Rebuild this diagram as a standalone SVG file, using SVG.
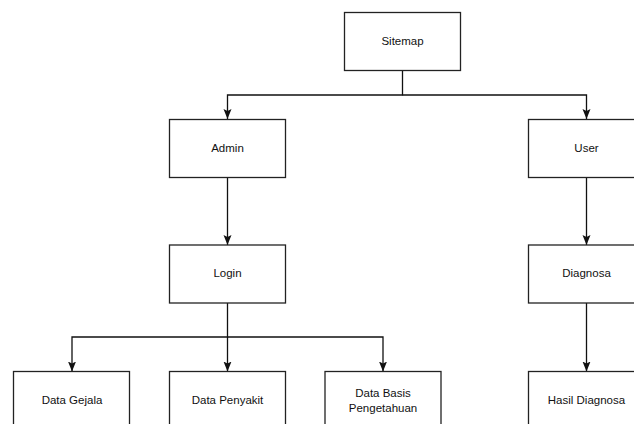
<svg xmlns="http://www.w3.org/2000/svg" width="634" height="424" viewBox="0 0 634 424">
  <style>
    .box { fill: #ffffff; stroke: #222222; stroke-width: 1.3; }
    .lbl { font-family: "Liberation Sans", Arial, sans-serif; font-size: 11.5px; fill: #111111; text-anchor: middle; }
    .edge { fill: none; stroke: #111111; stroke-width: 1.3; }
  </style>
  <defs>
    <marker id="arrow" markerUnits="userSpaceOnUse" markerWidth="10" markerHeight="10" viewBox="0 0 10 10" refX="10" refY="5" orient="auto">
      <path d="M0,1 L10,5 L0,9 L2,5 Z" fill="#111111"/>
    </marker>
  </defs>
  <rect width="634" height="424" fill="#ffffff"/>

  <!-- connectors -->
  <g id="connectors">
    <path class="edge" d="M402.5,70.5 V95 H227.5 V119" marker-end="url(#arrow)"/>
    <path class="edge" d="M402.5,95 H586.5 V119" marker-end="url(#arrow)"/>
    <path class="edge" d="M227.5,177.5 V245" marker-end="url(#arrow)"/>
    <path class="edge" d="M586.5,177.5 V245" marker-end="url(#arrow)"/>
    <path class="edge" d="M227.5,303 V337 H72 V371.5" marker-end="url(#arrow)"/>
    <path class="edge" d="M227.5,337 V371.5" marker-end="url(#arrow)"/>
    <path class="edge" d="M227.5,337 H383 V371.5" marker-end="url(#arrow)"/>
    <path class="edge" d="M586.5,303 V371.5" marker-end="url(#arrow)"/>
  </g>

  <!-- nodes -->
  <g id="sitemap">
    <rect class="box" x="344.5" y="12.5" width="116" height="58"/>
    <text class="lbl" x="402.5" y="44.5">Sitemap</text>
  </g>
  <g id="admin">
    <rect class="box" x="169.5" y="119.5" width="116" height="58"/>
    <text class="lbl" x="227.5" y="151.5">Admin</text>
  </g>
  <g id="user">
    <rect class="box" x="528.5" y="119.5" width="116" height="58"/>
    <text class="lbl" x="586.5" y="151.5">User</text>
  </g>
  <g id="login">
    <rect class="box" x="169.5" y="245" width="116" height="58"/>
    <text class="lbl" x="227.5" y="277">Login</text>
  </g>
  <g id="diagnosa">
    <rect class="box" x="528.5" y="245" width="116" height="58"/>
    <text class="lbl" x="586.5" y="277">Diagnosa</text>
  </g>
  <g id="data-gejala">
    <rect class="box" x="13.5" y="371.5" width="116" height="58"/>
    <text class="lbl" x="72" y="403.5">Data Gejala</text>
  </g>
  <g id="data-penyakit">
    <rect class="box" x="169.5" y="371.5" width="116" height="58"/>
    <text class="lbl" x="227.5" y="403.5">Data Penyakit</text>
  </g>
  <g id="data-basis-pengetahuan">
    <rect class="box" x="325" y="371.5" width="116" height="58"/>
    <text class="lbl" x="383" y="396.5">Data Basis</text>
    <text class="lbl" x="383" y="411.5">Pengetahuan</text>
  </g>
  <g id="hasil-diagnosa">
    <rect class="box" x="528.5" y="371.5" width="116" height="58"/>
    <text class="lbl" x="586.5" y="403.5">Hasil Diagnosa</text>
  </g>
</svg>
